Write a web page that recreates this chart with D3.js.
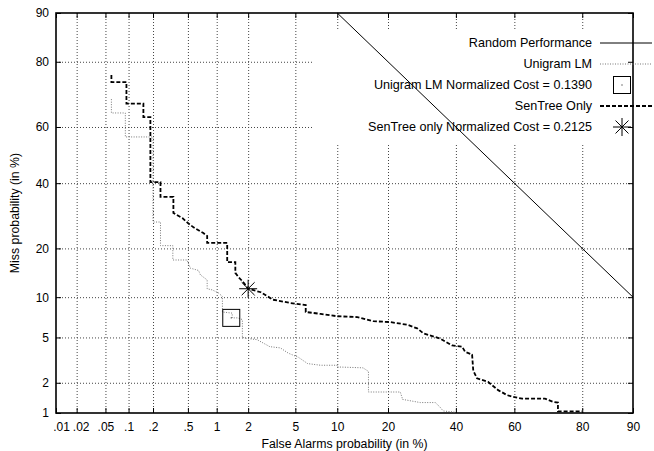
<!DOCTYPE html>
<html>
<head>
<meta charset="utf-8">
<script src="https://cdn.jsdelivr.net/npm/d3@7"></script>
<style>
  body { margin: 0; background: #fff; }
  svg { font-family: "Liberation Sans", Arial, sans-serif; }
  .tick text { font-size: 12px; fill: #000; }
</style>
</head>
<body>
<svg width="654" height="451"></svg>
<script>
// values in percent
const xTicks = [0.01, 0.02, 0.05, 0.1, 0.2, 0.5, 1, 2, 5, 10, 20, 40, 60, 80, 90];
const xTickLabels = ['.01', '.02', '.05', '.1', '.2', '.5', '1', '2', '5', '10', '20', '40', '60', '80', '90'];
const yTicks = [1, 2, 5, 10, 20, 40, 60, 80, 90];

// [false alarm %, miss %]
const randomPerf = [[10, 90], [90, 10]];

const unigram = [
  [0.06, 69.3], [0.06, 64.8], [0.091, 64.8], [0.091, 56.5], [0.2, 56.5], [0.2, 27.3],
  [0.245, 27.3], [0.245, 20.7], [0.34, 20.7], [0.34, 17.2], [0.49, 17.2], [0.53, 15.4],
  [0.65, 14.9], [0.68, 14], [0.8, 13], [0.8, 11.4], [0.9, 11.2], [1.04, 10.7],
  [1.14, 10.1], [1.14, 7.85], [1.42, 7.7], [1.42, 7.1], [1.59, 7.1], [1.77, 6.9],
  [1.77, 5.0], [1.97, 4.9], [2.4, 4.8], [3.1, 4.2], [3.8, 4.1], [4.4, 3.7],
  [5.3, 3.4], [6.2, 3.0], [7.7, 2.9], [10, 2.9], [10, 2.8], [14.5, 2.75],
  [15.6, 2.55], [15.6, 1.63], [23.1, 1.63], [23.6, 1.43], [23.6, 1.38], [28.7, 1.28],
  [33.3, 1.28], [34.8, 1.15], [35.8, 1.05], [39.7, 1.02]
];

const senTree = [
  [0.06, 76.5], [0.06, 74.5], [0.094, 74.5], [0.094, 67.9], [0.153, 67.9], [0.153, 63.4],
  [0.186, 63.4], [0.186, 40.4], [0.245, 40.4], [0.245, 35.3], [0.345, 35.3], [0.345, 30.1],
  [0.435, 28.5], [0.5, 27], [0.57, 25.8], [0.73, 24.1], [0.8, 23.3], [0.8, 21.4],
  [1.27, 21.4], [1.27, 16.7], [1.52, 16.7], [1.52, 14.4], [1.62, 13.6], [1.8, 12.6],
  [2.0, 11.4], [2.6, 10.8], [3.3, 9.6], [4.6, 9.1], [6.0, 8.8], [6.0, 7.85],
  [7.7, 7.6], [10, 7.3], [13.4, 7.2], [16.6, 6.7], [20.5, 6.6], [25, 6.3],
  [27.8, 5.9], [29.6, 5.4], [34.8, 4.9], [38.7, 4.3], [42.1, 4.2], [43.1, 3.8],
  [45.5, 3.6], [45.9, 2.6], [47.2, 2.2], [51, 2.04], [54.5, 1.7], [57.5, 1.52],
  [59.6, 1.46], [62.6, 1.4], [69.8, 1.4], [72.2, 1.3], [73.6, 1.28], [73.6, 1.04],
  [80, 1.04]
];

const unigramCost = [1.39, 7.1];
const senTreeCost = [2.0, 11.4];

const legendLabels = [
  'Random Performance',
  'Unigram LM',
  'Unigram LM Normalized Cost = 0.1390',
  'SenTree Only',
  'SenTree only Normalized Cost = 0.2125'
];

// inverse normal cdf (Acklam)
function probit(p) {
  const a = [-39.69683028665376, 220.9460984245205, -275.9285104469687, 138.3577518672690, -30.66479806614716, 2.506628277459239];
  const b = [-54.47609879822406, 161.5858368580409, -155.6989798598866, 66.80131188771972, -13.28068155288572];
  const c = [-0.007784894002430293, -0.3223964580411365, -2.400758277161838, -2.549732539343734, 4.374664141464968, 2.938163982698783];
  const d = [0.007784695709041462, 0.3224671290700398, 2.445134137142996, 3.754408661907416];
  const pl = 0.02425;
  let q, r;
  if (p < pl) {
    q = Math.sqrt(-2 * Math.log(p));
    return (((((c[0] * q + c[1]) * q + c[2]) * q + c[3]) * q + c[4]) * q + c[5]) /
      ((((d[0] * q + d[1]) * q + d[2]) * q + d[3]) * q + 1);
  }
  if (p > 1 - pl) {
    q = Math.sqrt(-2 * Math.log(1 - p));
    return -(((((c[0] * q + c[1]) * q + c[2]) * q + c[3]) * q + c[4]) * q + c[5]) /
      ((((d[0] * q + d[1]) * q + d[2]) * q + d[3]) * q + 1);
  }
  q = p - 0.5;
  r = q * q;
  return (((((a[0] * r + a[1]) * r + a[2]) * r + a[3]) * r + a[4]) * r + a[5]) * q /
    (((((b[0] * r + b[1]) * r + b[2]) * r + b[3]) * r + b[4]) * r + 1);
}
const pz = v => probit(v / 100);

const svg = d3.select('svg');
const MARGIN = { TOP: 13, RIGHT: 21, BOTTOM: 38, LEFT: 56 };
const WIDTH = +svg.attr('width') - MARGIN.LEFT - MARGIN.RIGHT;
const HEIGHT = +svg.attr('height') - MARGIN.TOP - MARGIN.BOTTOM;

const g = svg.append('g').attr('transform', `translate(${MARGIN.LEFT}, ${MARGIN.TOP})`);

// scales on normal deviate
const x = d3.scaleLinear().domain([pz(0.01), pz(90)]).range([0, WIDTH]);
const y = d3.scaleLinear().domain([pz(1), pz(90)]).range([HEIGHT, 0]);
const px = v => x(pz(v));
const py = v => y(pz(v));

// grid
const gridStyle = sel => sel.selectAll('.tick line')
  .attr('stroke', '#444').attr('stroke-width', 1).attr('stroke-dasharray', '1,2');

g.append('g')
  .attr('transform', `translate(0,${HEIGHT})`)
  .call(d3.axisBottom(x).tickValues(xTicks.slice(1, -1).map(pz)).tickSize(-HEIGHT).tickFormat(''))
  .call(a => a.select('.domain').remove())
  .call(gridStyle);

g.append('g')
  .call(d3.axisLeft(y).tickValues(yTicks.slice(1, -1).map(pz)).tickSize(-WIDTH).tickFormat(''))
  .call(a => a.select('.domain').remove())
  .call(gridStyle);

// legend box blanks the grid
const LEG_RIGHT = 536;
g.append('rect')
  .attr('x', 257).attr('y', 17)
  .attr('width', WIDTH - 257).attr('height', 113)
  .attr('fill', '#fff');

// axes
g.append('g')
  .attr('class', 'axis axis--x')
  .attr('transform', `translate(0,${HEIGHT})`)
  .call(d3.axisBottom(x).tickValues(xTicks.map(pz)).tickSizeInner(-5).tickSizeOuter(0).tickPadding(9)
    .tickFormat((d, i) => xTickLabels[i]))
  .call(a => a.select('.domain').remove())
  .call(a => a.selectAll('.tick line').attr('stroke', '#000'))
  .call(a => a.selectAll('.tick text').filter((d, i) => i === 0).attr('dx', 5))
  .call(a => a.selectAll('.tick text').filter((d, i) => i === 1).attr('dx', 4));

g.append('g')
  .attr('class', 'axis axis--y')
  .call(d3.axisLeft(y).tickValues(yTicks.map(pz)).tickSizeInner(-5).tickSizeOuter(0).tickPadding(7)
    .tickFormat((d, i) => yTicks[i]))
  .call(a => a.select('.domain').remove())
  .call(a => a.selectAll('.tick line').attr('stroke', '#000'));

// mirrored ticks
g.append('g')
  .call(d3.axisTop(x).tickValues(xTicks.map(pz)).tickSizeInner(-5).tickSizeOuter(0).tickFormat(''))
  .call(a => a.select('.domain').remove());
g.append('g')
  .attr('transform', `translate(${WIDTH},0)`)
  .call(d3.axisRight(y).tickValues(yTicks.map(pz)).tickSizeInner(-5).tickSizeOuter(0).tickFormat(''))
  .call(a => a.select('.domain').remove());

// border
g.append('rect')
  .attr('width', WIDTH).attr('height', HEIGHT)
  .attr('fill', 'none').attr('stroke', '#000').attr('stroke-width', 1.6);

// axis titles
g.append('text')
  .attr('x', WIDTH / 2 + 0).attr('y', HEIGHT + 35)
  .attr('text-anchor', 'middle').style('font-size', '12.3px')
  .text('False Alarms probability (in %)');

g.append('text')
  .attr('transform', `translate(${-37},${HEIGHT / 2}) rotate(-90)`)
  .attr('text-anchor', 'middle').style('font-size', '12.3px')
  .text('Miss probability (in %)');

const line = d3.line().x(d => px(d[0])).y(d => py(d[1]));

const styles = [
  { stroke: '#000', width: 1, dash: null },
  { stroke: '#777', width: 1, dash: '1,1.5' },
  { stroke: '#000', width: 1.8, dash: '4,2' }
];

g.append('path').datum(randomPerf)
  .attr('d', line).attr('fill', 'none')
  .attr('stroke', styles[0].stroke).attr('stroke-width', styles[0].width);

g.append('path').datum(unigram)
  .attr('d', line).attr('fill', 'none')
  .attr('stroke', styles[1].stroke).attr('stroke-width', styles[1].width)
  .attr('stroke-dasharray', styles[1].dash);

g.append('path').datum(senTree)
  .attr('d', line).attr('fill', 'none')
  .attr('stroke', styles[2].stroke).attr('stroke-width', styles[2].width)
  .attr('stroke-dasharray', styles[2].dash);

function square(sel, cx, cy) {
  sel.append('rect')
    .attr('x', cx - 8.5).attr('y', cy - 8.5).attr('width', 17).attr('height', 17)
    .attr('fill', 'none').attr('stroke', '#000').attr('stroke-width', 1);
  sel.append('rect')
    .attr('x', cx - 0.5).attr('y', cy - 0.5).attr('width', 1).attr('height', 1)
    .attr('fill', '#000');
}
function star(sel, cx, cy) {
  const r = 9, dd = r * 0.72;
  const segs = [[-r, 0, r, 0], [0, -r, 0, r], [-dd, -dd, dd, dd], [-dd, dd, dd, -dd]];
  sel.selectAll(null).data(segs).enter().append('line')
    .attr('x1', s => cx + s[0]).attr('y1', s => cy + s[1])
    .attr('x2', s => cx + s[2]).attr('y2', s => cy + s[3])
    .attr('stroke', '#000').attr('stroke-width', 1);
}

square(g, px(unigramCost[0]), py(unigramCost[1]));
star(g, px(senTreeCost[0]), py(senTreeCost[1]));

// legend
const legend = g.append('g');
legendLabels.forEach((label, i) => {
  const ly = 30 + i * 21;
  legend.append('text')
    .attr('x', LEG_RIGHT).attr('y', ly).attr('dy', '0.35em')
    .attr('text-anchor', 'end').style('font-size', '12.6px')
    .text(label);
  const kx1 = LEG_RIGHT + 8, kx2 = LEG_RIGHT + 60, kc = LEG_RIGHT + 30;
  if (i === 0 || i === 1 || i === 3) {
    const s = styles[i === 0 ? 0 : i === 1 ? 1 : 2];
    legend.append('line')
      .attr('x1', kx1).attr('x2', kx2).attr('y1', ly).attr('y2', ly)
      .attr('stroke', s.stroke).attr('stroke-width', s.width)
      .attr('stroke-dasharray', s.dash);
  } else if (i === 2) {
    square(legend, kc, ly);
  } else {
    star(legend, kc, ly);
  }
});
</script>
</body>
</html>
